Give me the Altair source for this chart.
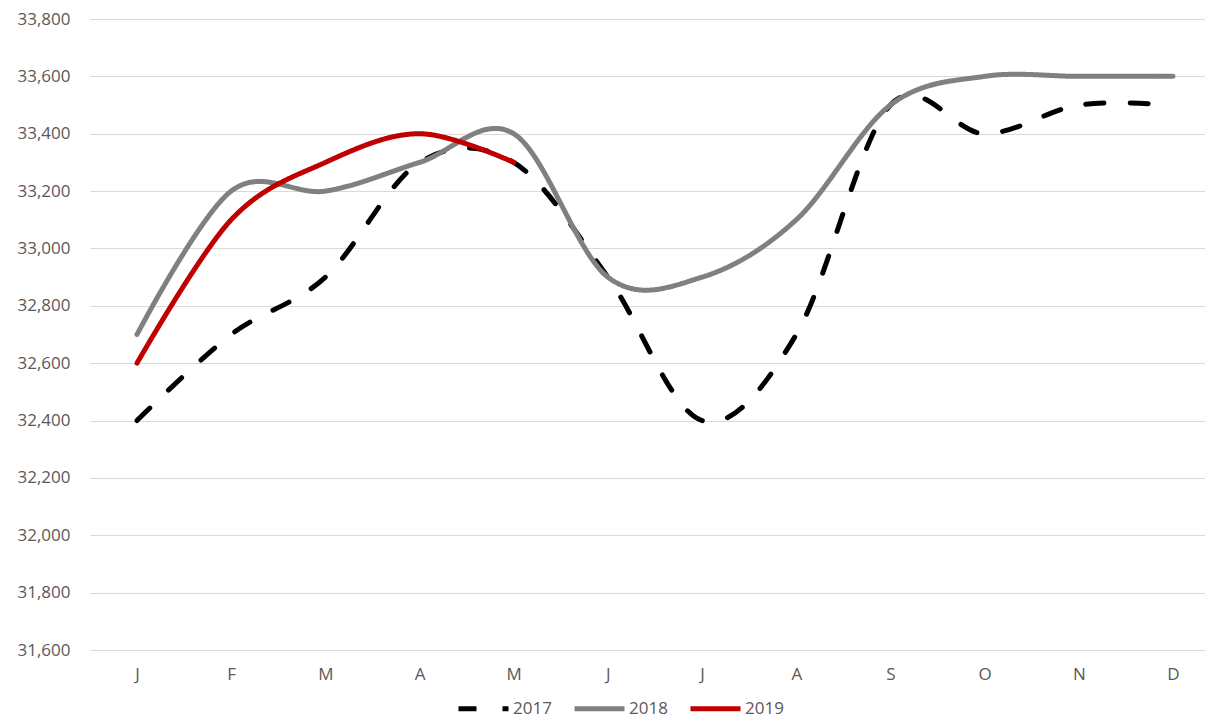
import altair as alt
import pandas as pd

months = ["J", "F", "M", "A", "M", "J", "J", "A", "S", "O", "N", "D"]
years = ["2017", "2018", "2019"]
v2017 = [32400, 32700, 32900, 33300, 33300, 32900, 32400, 32700, 33500, 33400, 33500, 33500]
v2018 = [32700, 33200, 33200, 33300, 33400, 32900, 32900, 33100, 33500, 33600, 33600, 33600]
v2019 = [32600, 33100, 33300, 33400, 33300]
y_ticks = list(range(31600, 33801, 200))
colors = ["#000000", "#808080", "#C00000"]
dashes = [[18, 26], [1, 0], [1, 0]]

rows = []
for yr, vals in zip(years, [v2017, v2018, v2019]):
    for i, v in enumerate(vals):
        rows.append({"m": i, "value": v, "year": yr})
df = pd.DataFrame(rows)

label_expr = "[" + ",".join(f"'{m}'" for m in months) + "][datum.value]"
FONT = "Open Sans"
TXT = "#595959"

legend = alt.Legend(title=None, orient="none", legendX=366, legendY=662,
                    direction="horizontal", symbolType="stroke", symbolSize=2500,
                    symbolStrokeWidth=5, labelFontSize=17, labelColor=TXT,
                    labelFont=FONT, columnPadding=12, labelOffset=2)

chart = alt.Chart(df).mark_line(interpolate="cardinal", strokeWidth=5, strokeCap="round").encode(
    x=alt.X("m:Q",
            scale=alt.Scale(domain=[-0.499, 11.34], nice=False, zero=False),
            axis=alt.Axis(values=list(range(12)), labelExpr=label_expr, title=None, grid=False,
                          domain=False, ticks=False, labelPadding=16, labelFontSize=17,
                          labelColor=TXT, labelFont=FONT)),
    y=alt.Y("value:Q",
            scale=alt.Scale(domain=[31600, 33800], nice=False, zero=False),
            axis=alt.Axis(values=y_ticks, format=",.0f", title=None, domain=False, ticks=False,
                          gridColor="#d9d9d9", gridWidth=1, labelPadding=20, labelFontSize=17,
                          labelColor=TXT, labelFont=FONT)),
    color=alt.Color("year:N", scale=alt.Scale(domain=years, range=colors), legend=legend),
    strokeDash=alt.StrokeDash("year:N", scale=alt.Scale(domain=years, range=dashes), legend=legend),
).properties(
    width=1115, height=631,
    autosize=alt.AutoSizeParams(type="none"),
    padding={"left": 82, "top": 11, "right": 0, "bottom": 68},
).configure_view(stroke=None)

chart.save("out.html", embed_options={"renderer": "svg", "actions": False})
